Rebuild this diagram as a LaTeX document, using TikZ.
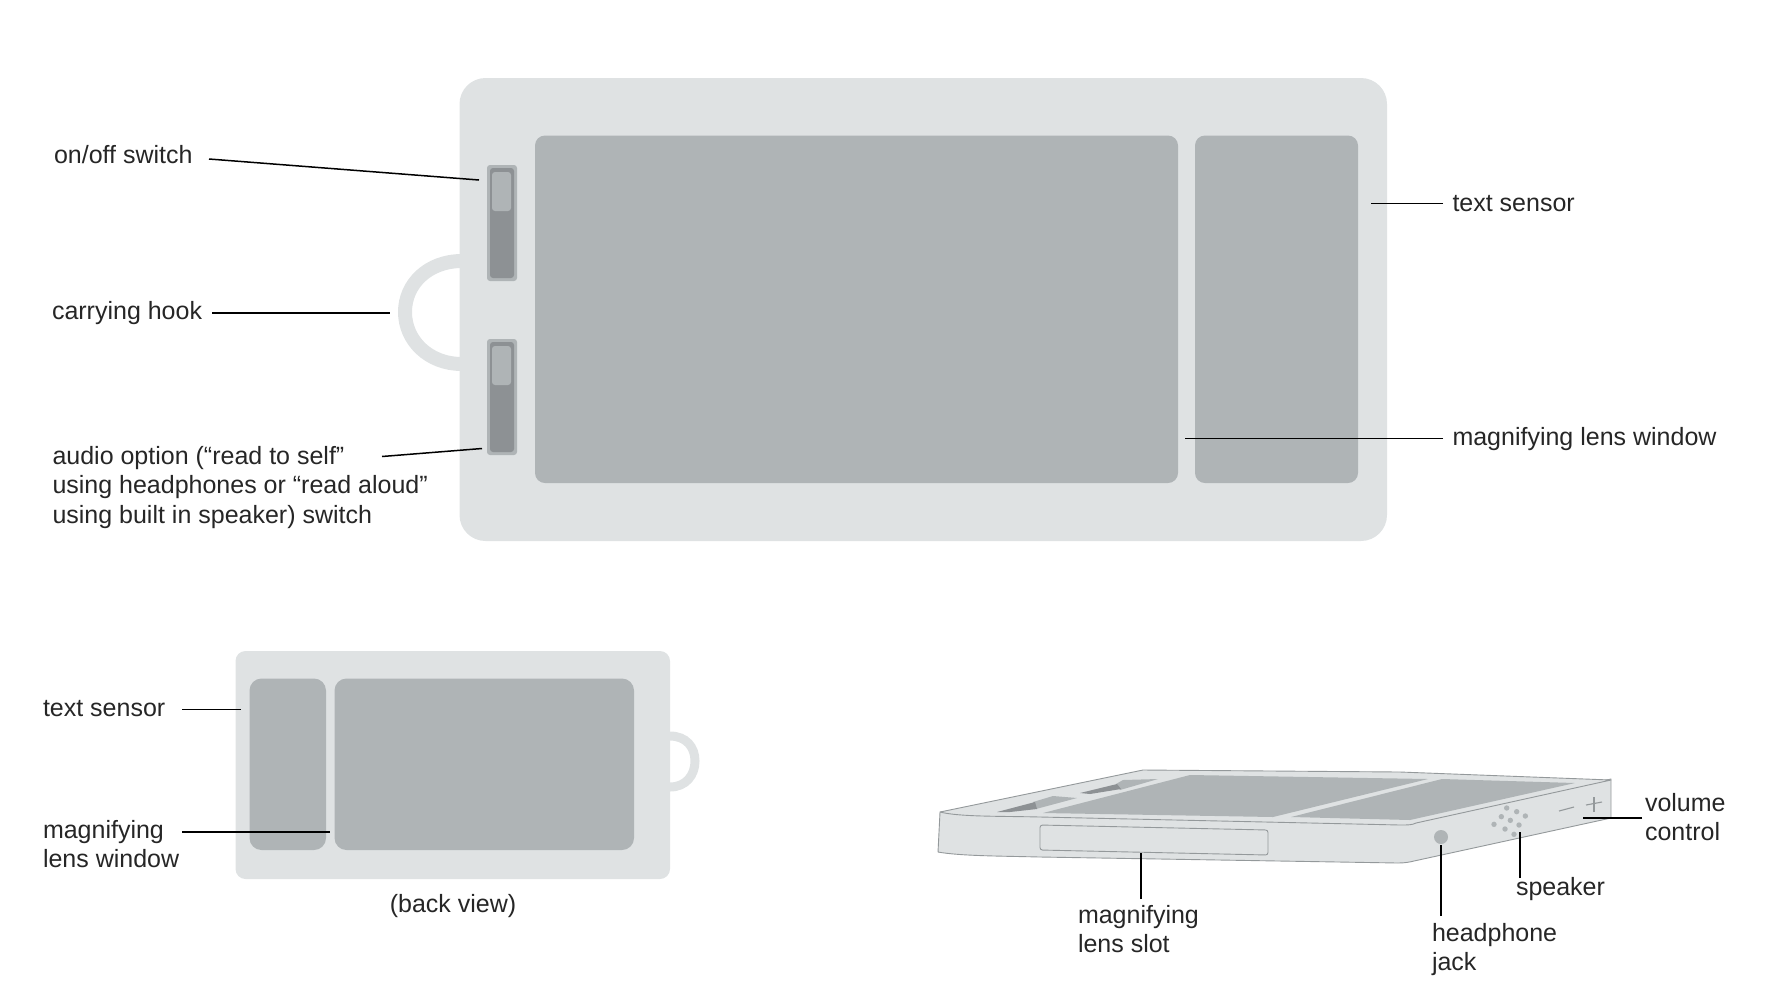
\documentclass[tikz,border=0pt]{standalone}
\usepackage{fontspec}
\setmainfont{Liberation Sans}
\definecolor{bodyc}{HTML}{DFE2E3}
\definecolor{winc}{HTML}{AFB4B6}
\definecolor{swc}{HTML}{8D9194}
\definecolor{edgec}{HTML}{94999B}
\definecolor{inkc}{HTML}{262626}
\tikzset{
  x=1pt,y=-1pt,
  lbl/.style={anchor=west,inner sep=0pt,outer sep=0pt,align=left,text=inkc,
    font=\fontsize{25}{29.6}\selectfont},
  leader/.style={draw=black,line width=1.5pt},
  shell/.style={fill=bodyc,draw=none,rounded corners=#1},
  pane/.style={fill=winc,draw=none,rounded corners=#1},
  edged/.style={fill=bodyc,draw=edgec,line width=.9pt,line join=round},
  spk/.style={fill=winc,draw=none},
}
\begin{document}
\begin{tikzpicture}
\useasboundingbox (0,0) rectangle (1784,994);
% --- main front view
\draw[bodyc,line width=14pt] (462,261) .. controls (428,261) and (405,284) .. (405,312) .. controls (405,340) and (428,364) .. (462,364);
\path[shell=26] (459.5,78) rectangle (1387,541);
\path[pane=10] (535,135.5) rectangle (1178,483);
\path[pane=10] (1195,135.5) rectangle (1358,483);
\foreach \t/\k in {165/172,339/346}{
  \path[fill=winc,rounded corners=3] (487,\t) rectangle (517,\t+116);
  \path[fill=swc,rounded corners=3] (490,\t+3) rectangle (514,\t+113);
  \path[fill=winc,rounded corners=3] (492,\k) rectangle (511,\k+39);
}
% --- back view
\draw[bodyc,line width=9pt] (670,736) .. controls (686,736) and (695,747) .. (695,761) .. controls (695,775) and (686,787) .. (670,787);
\path[shell=10] (235.5,651) rectangle (670,879);
\path[pane=12] (249.5,678.5) rectangle (326,850);
\path[pane=12] (334.5,678.5) rectangle (634,850);
% --- perspective view
\path[edged] (940,812) -- (938,852) .. controls (960,856) and (1000,856) .. (1040,857) -- (1398,863) .. controls (1405,863) and (1410,862) .. (1414,861) -- (1611,818) -- (1611,779) -- (1414,823) -- (1040,816) -- cycle;
\path[edged] (940,812) -- (1143,770) -- (1400,772) -- (1611,780) -- (1416,823) .. controls (1412,825) and (1408,825) .. (1400,825) -- (1040,817) .. controls (1000,816) and (960,817) .. (940,812) -- cycle;
\path[fill=winc] (1043,813) -- (1190,775) -- (1428,779) -- (1273,817) -- cycle;
\path[fill=winc] (1291,817) -- (1442,779) -- (1575,783) -- (1410,820) -- cycle;
\path[fill=winc] (1033,802) -- (1053,796) -- (1077,798) -- (1036,809) -- cycle;
\path[fill=swc] (997,812) -- (1035,802) -- (1037,809) -- (1010,812) -- cycle;
\path[fill=winc] (1116,784) -- (1123,780) -- (1158,779) -- (1120,790) -- cycle;
\path[fill=swc] (1080,793) -- (1117,784) -- (1121,789) -- (1090,794) -- cycle;
\path[fill=bodyc,draw=edgec,line width=.9pt,rounded corners=2.5] (1040,825) -- (1268,830) -- (1268,855) -- (1040,850) -- cycle;
\path[fill=winc] (1441,837) circle (7);
\foreach \px/\py in {500/174,530/185,556/198,484/200,511/211,462/223,537/225,495/237,522/253}
  \path[spk] ({1340+\px/3},{750+\py/3}) circle (2.7);
\draw[edgec,line width=1.1pt] (1559,811) -- (1574,807);
\draw[edgec,line width=1.1pt] (1586,805) -- (1602,802);
\draw[edgec,line width=1.1pt] (1594,797) -- (1594,812);
% --- labels
\node[lbl] (onoff) at (54,155) {on/off switch};
\node[lbl] (hook) at (52,313) {carrying hook};
\node[lbl] (audio) at (52.5,487.5) {audio option (“read to self”\\using headphones or “read aloud”\\using built in speaker) switch};
\node[lbl] (sensor) at (1452.5,204) {text sensor};
\node[lbl] (lens) at (1452.5,439) {magnifying lens window};
\node[lbl] (bsensor) at (43,709) {text sensor};
\node[lbl] (blens) at (43,844) {magnifying\\lens window};
\node[lbl,anchor=center] (backview) at (453,906) {(back view)};
\node[lbl] (slot) at (1078,929) {magnifying\\lens slot};
\node[lbl] (jack) at (1432,949.5) {headphone\\jack};
\node[lbl] (speaker) at (1516,889) {speaker};
\node[lbl] (volume) at (1645,817) {volume\\control};
% --- leader ends
\coordinate (onoffA) at (209,159); \coordinate (onoffB) at (479,180);
\coordinate (hookA) at (212,313); \coordinate (hookB) at (390,313);
\coordinate (audioA) at (382,456.5); \coordinate (audioB) at (482,448.5);
\coordinate (sensorA) at (1443,203.5); \coordinate (sensorB) at (1371,203.5);
\coordinate (lensA) at (1443,438.5); \coordinate (lensB) at (1185,438.5);
\coordinate (bsensorA) at (182,709.5); \coordinate (bsensorB) at (241,709.5);
\coordinate (blensA) at (182,832); \coordinate (blensB) at (330,832);
\coordinate (slotA) at (1141,899); \coordinate (slotB) at (1141,853);
\coordinate (jackA) at (1441,916); \coordinate (jackB) at (1441,845);
\coordinate (speakerA) at (1520,878); \coordinate (speakerB) at (1520,832);
\coordinate (volumeA) at (1642,818); \coordinate (volumeB) at (1583,818);
\foreach \n in {onoff,hook,audio,sensor,lens,bsensor,blens,slot,jack,speaker,volume}
  \draw[leader] (\n A) -- (\n B);
\end{tikzpicture}
\end{document}
